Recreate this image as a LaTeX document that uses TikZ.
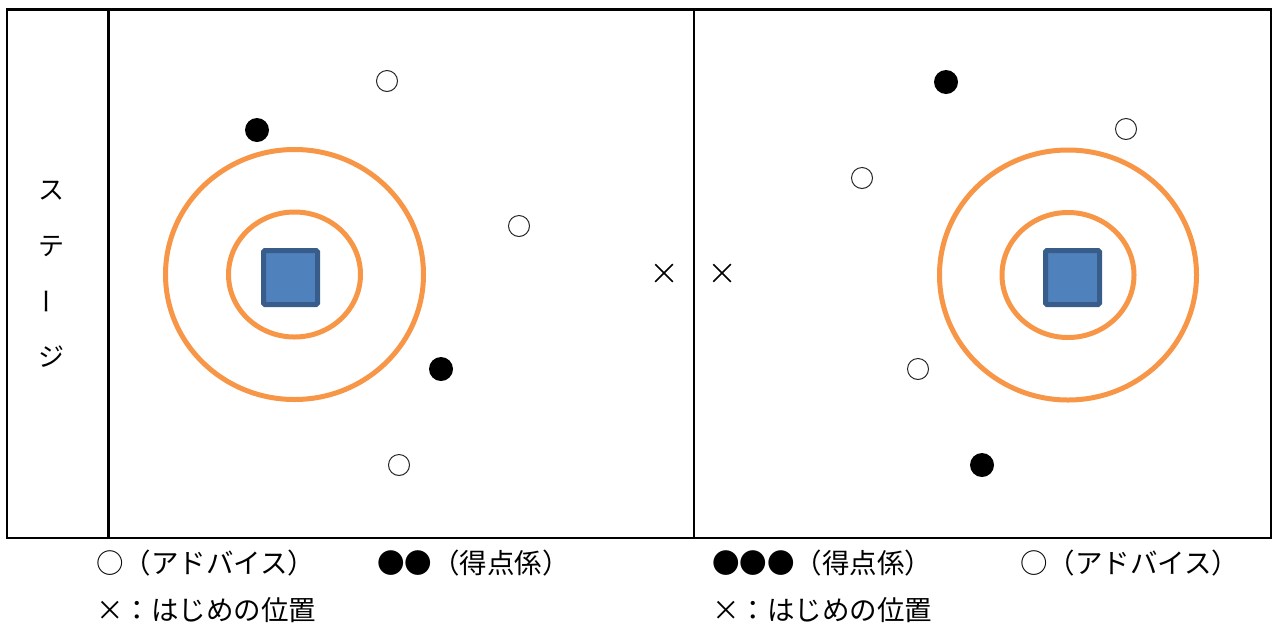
\documentclass[tikz,border=0pt]{standalone}
\usepackage{fontspec}
\newfontfamily\jp{Noto Sans CJK JP}
\usetikzlibrary{shapes.misc}
\definecolor{ringorange}{HTML}{F79646}
\definecolor{boxfill}{HTML}{4F81BD}
\definecolor{boxedge}{HTML}{385D8A}

\tikzset{
  frameline/.style={draw=black, line width=2.3pt},
  ring/.style={draw=ringorange, line width=5pt},
  target/.style={rectangle, draw=boxedge, fill=boxfill, line width=5pt,
    minimum size=54pt, rounded corners=1.5pt, inner sep=0pt},
  helper/.style={circle, draw=black!85, line width=1pt, minimum size=21pt, inner sep=0pt},
  scorer/.style={circle, fill=black, minimum size=24pt, inner sep=0pt},
  startpos/.style={cross out, draw=black, line width=1.5pt, minimum size=16pt, inner sep=0pt},
  stagechar/.style={font=\jp\fontsize{26}{30}\selectfont, inner sep=0pt},
  legend/.style={anchor=west, font=\jp\fontsize{27.5}{32}\selectfont, inner sep=0pt},
}

\begin{document}
\begin{tikzpicture}[x=1pt, y=-1pt]
\useasboundingbox (0,0) rectangle (1274,625);

% outer frame and dividers
\coordinate (nw) at (7,9.5);
\coordinate (se) at (1271,538);
\coordinate (stageTop) at (108.5,9.5);
\coordinate (stageBot) at (108.5,538);
\coordinate (midTop) at (694,9.5);
\coordinate (midBot) at (694,538);
\draw[frameline] (nw) rectangle (se);
\draw[frameline] (stageTop) -- (stageBot);
\draw[frameline] (midTop) -- (midBot);

% stage label, written vertically
\node[stagechar] (s1) at (51,191) {ス};
\node[stagechar] (s2) at (51,246) {テ};
\node[stagechar, rotate=90] (s3) at (51,301) {ー};
\node[stagechar] (s4) at (51,357) {ジ};

% left court: target and rings
\coordinate (ringL) at (294.5,274.5);
\draw[ring] (ringL) ellipse [x radius=129, y radius=125];
\draw[ring] (ringL) ellipse [x radius=66, y radius=62.5];
\node[target] (boxL) at (290.5,277.5) {};

% right court: target and rings
\coordinate (ringR) at (1068,275);
\draw[ring] (ringR) ellipse [x radius=128.5, y radius=125];
\draw[ring] (ringR) ellipse [x radius=66, y radius=62.5];
\node[target] (boxR) at (1072.5,277.5) {};

% players on the left court
\node[helper] (hL1) at (387,81) {};
\node[scorer] (sL1) at (257,130) {};
\node[helper] (hL2) at (519,226) {};
\node[scorer] (sL2) at (441,369) {};
\node[helper] (hL3) at (399,465) {};

% players on the right court
\node[scorer] (sR1) at (946,82) {};
\node[helper] (hR1) at (1126,129) {};
\node[helper] (hR2) at (862,178) {};
\node[helper] (hR3) at (918,369) {};
\node[scorer] (sR2) at (982,465) {};

% starting positions
\node[startpos] (xL) at (664,273) {};
\node[startpos] (xR) at (722,273) {};

% legends
\node[legend] (lg1) at (96,563) {○（アドバイス）};
\node[legend] (lg2) at (377,563) {●●（得点係）};
\node[legend] (lg3) at (96,610) {×：はじめの位置};
\node[legend] (lg4) at (712,563) {●●●（得点係）};
\node[legend] (lg5) at (1020,563) {○（アドバイス）};
\node[legend] (lg6) at (712,610) {×：はじめの位置};
\end{tikzpicture}
\end{document}
